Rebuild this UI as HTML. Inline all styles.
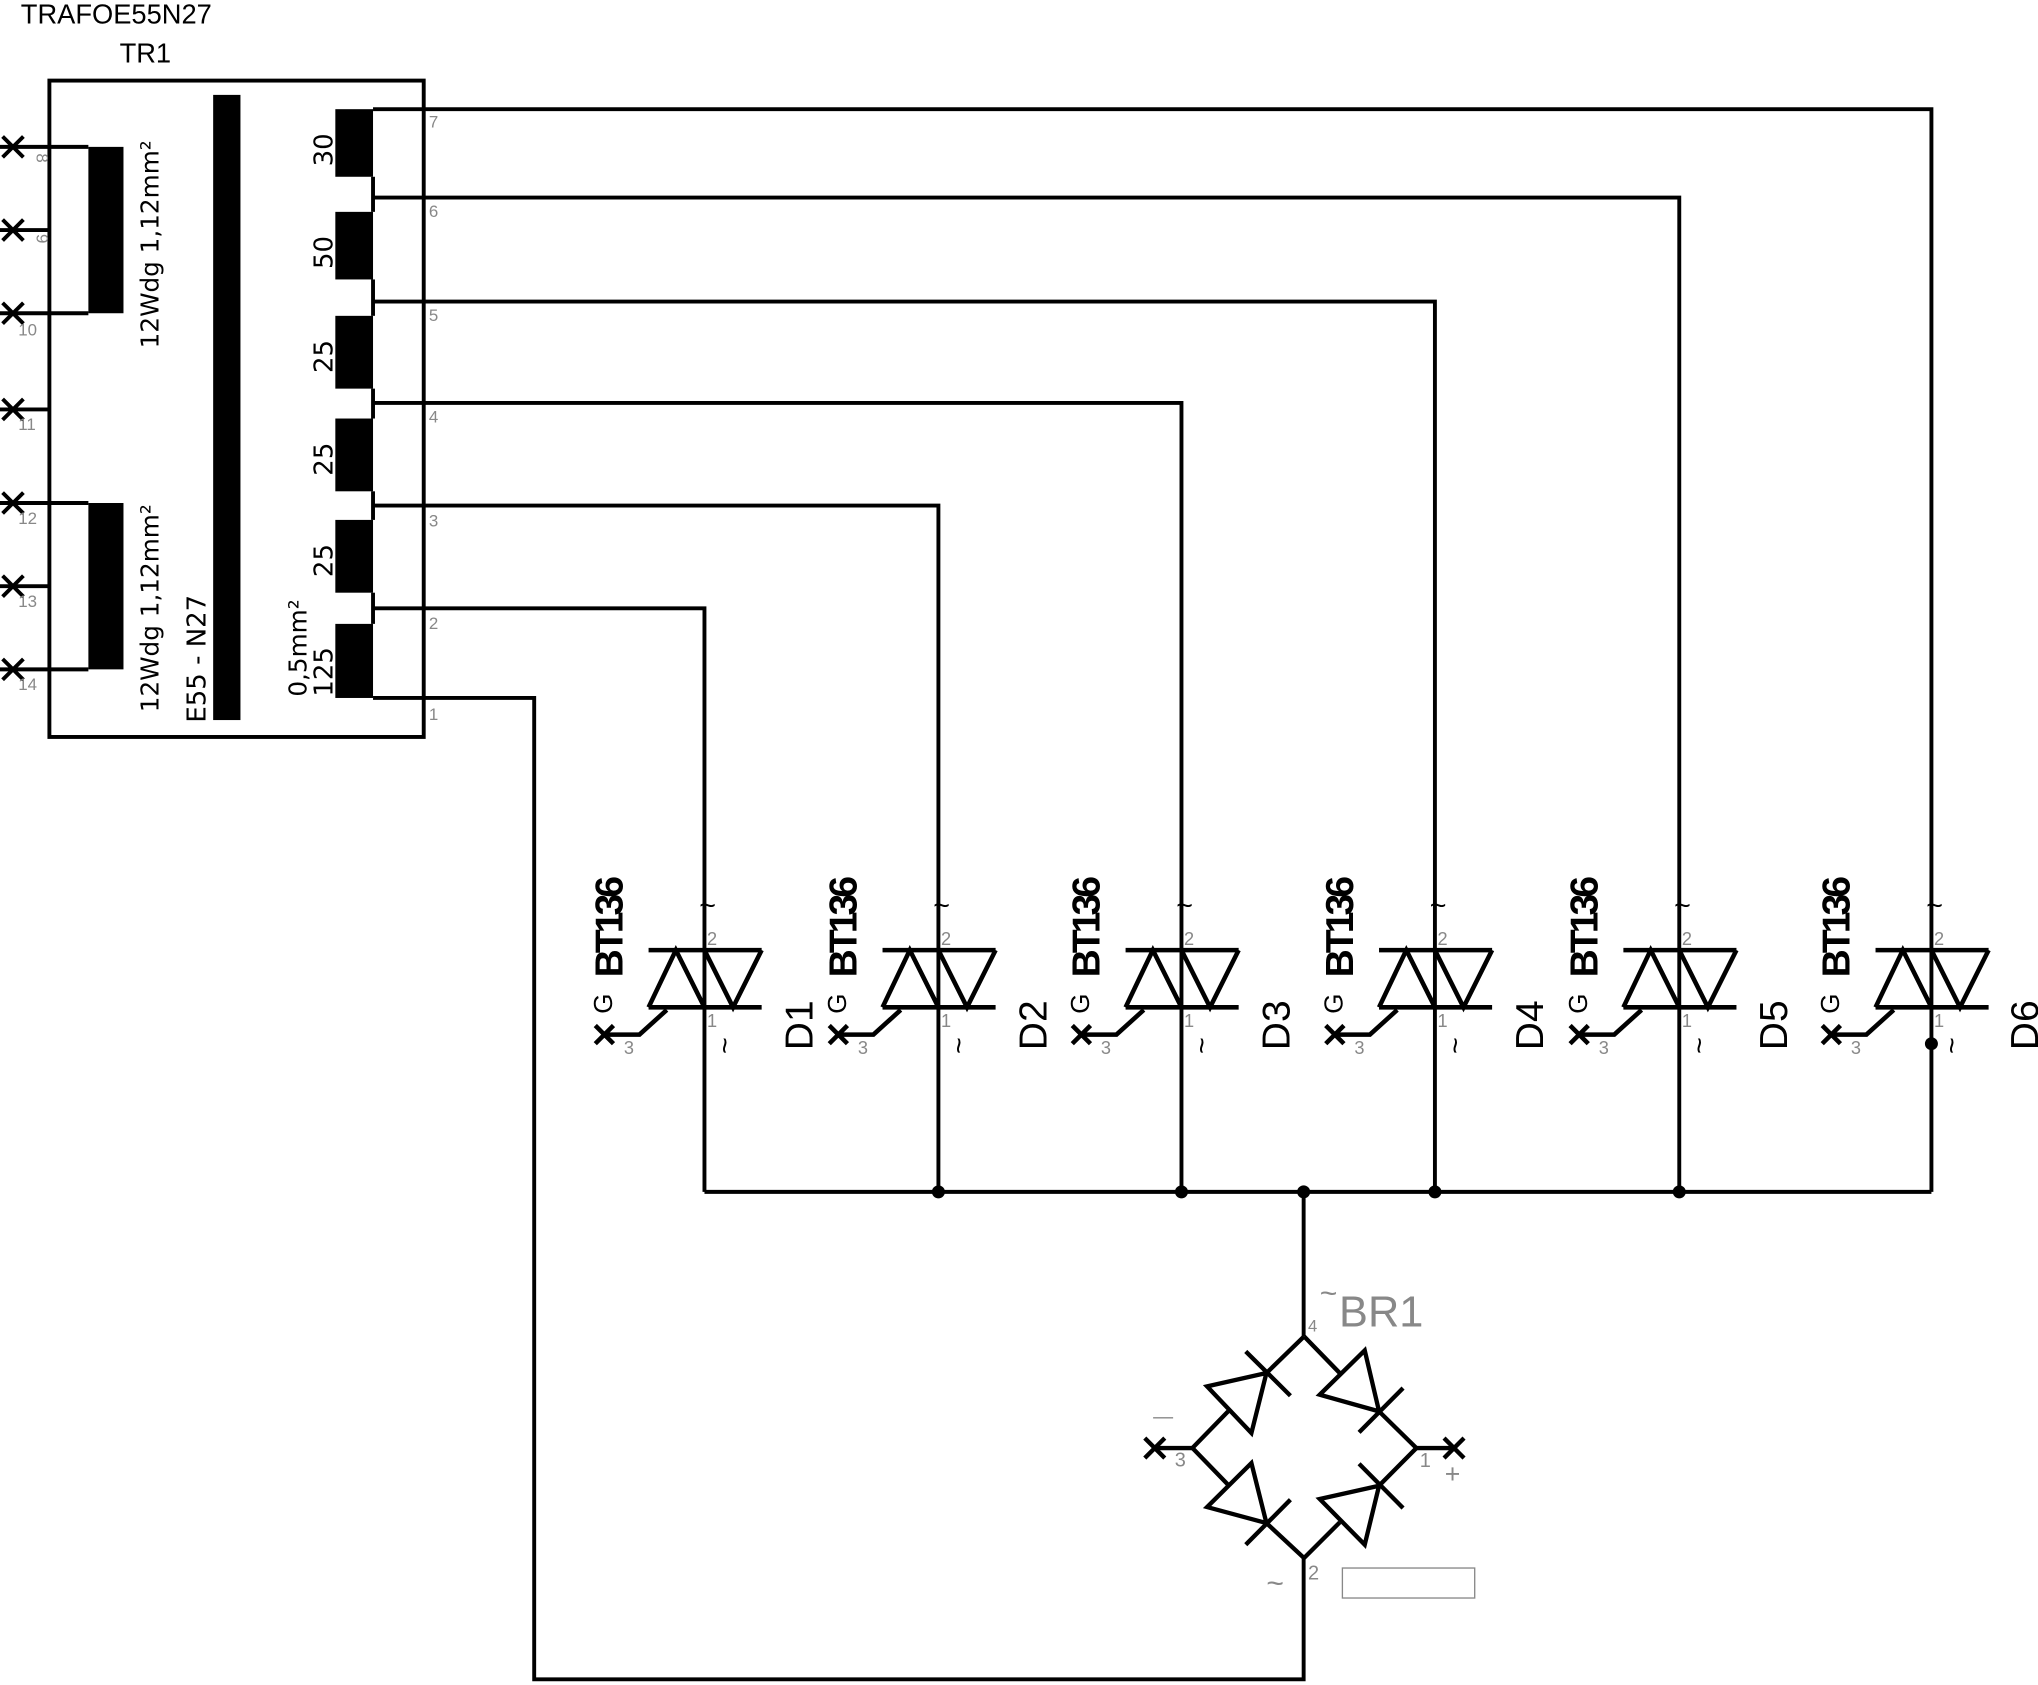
<!DOCTYPE html>
<html><head><style>html,body{margin:0;padding:0;background:#fff}svg{display:block}</style></head>
<body>
<svg width="2038" height="1685" viewBox="0 0 1568 1296.4" xmlns="http://www.w3.org/2000/svg" font-family="Liberation Sans, DejaVu Sans, sans-serif">
<g stroke="#000" stroke-width="3" fill="none">
<rect x="38" y="62" width="288" height="505"/>
<polyline points="0,113 68,113"/><polyline points="0,241 68,241"/>
<line x1="0" y1="177" x2="38" y2="177"/><line x1="0" y1="315" x2="38" y2="315"/>
<polyline points="0,387 68,387"/><polyline points="0,515 68,515"/>
<line x1="0" y1="451" x2="38" y2="451"/>
<line x1="287" y1="136" x2="287" y2="163"/><line x1="287" y1="215" x2="287" y2="243"/>
<line x1="287" y1="299" x2="287" y2="322"/><line x1="287" y1="378" x2="287" y2="400"/>
<line x1="287" y1="456" x2="287" y2="480"/>
<polyline points="287,84 1486,84 1486,917"/>
<polyline points="287,152 1292,152 1292,917"/>
<polyline points="287,232 1104,232 1104,917"/>
<polyline points="287,310 909,310 909,917"/>
<polyline points="287,389 722,389 722,917"/>
<polyline points="287,468 542,468 542,917"/>
<polyline points="287,537 411,537 411,1292 1003,1292 1003,1198"/>
<line x1="542" y1="917" x2="1486" y2="917"/>
<line x1="1003" y1="917" x2="1003" y2="1028"/>
</g>
<g fill="#000">
<rect x="164" y="73" width="21" height="481"/>
<rect x="68" y="113" width="27" height="128"/><rect x="68" y="387" width="27" height="128"/>
<rect x="258" y="84" width="29" height="52"/><rect x="258" y="163" width="29" height="52"/>
<rect x="258" y="243" width="29" height="56"/><rect x="258" y="322" width="29" height="56"/>
<rect x="258" y="400" width="29" height="56"/><rect x="258" y="480" width="29" height="57"/>
<circle cx="722" cy="917" r="5"/><circle cx="909" cy="917" r="5"/><circle cx="1003" cy="917" r="5"/>
<circle cx="1104" cy="917" r="5"/><circle cx="1292" cy="917" r="5"/><circle cx="1486" cy="803" r="5"/>
</g>
<g stroke="#000" stroke-width="3">
<path d="M2,105 l16,16 M18,105 l-16,16"/><path d="M2,169 l16,16 M18,169 l-16,16"/>
<path d="M2,233 l16,16 M18,233 l-16,16"/><path d="M2,307 l16,16 M18,307 l-16,16"/>
<path d="M2,379 l16,16 M18,379 l-16,16"/><path d="M2,443 l16,16 M18,443 l-16,16"/>
<path d="M2,507 l16,16 M18,507 l-16,16"/>
</g>
<text x="16" y="18" font-size="21">TRAFOE55N27</text>
<text x="92" y="48" font-size="21">TR1</text>
<g font-size="13" fill="#888">
<text transform="translate(28,118) rotate(90)">8</text>
<text transform="translate(28,180) rotate(90)">9</text>
<text x="14" y="258">10</text><text x="14" y="331">11</text>
<text x="14" y="403">12</text><text x="14" y="467">13</text><text x="14" y="531">14</text>
<text x="330" y="98">7</text><text x="330" y="167">6</text><text x="330" y="247">5</text>
<text x="330" y="325">4</text><text x="330" y="405">3</text><text x="330" y="484">2</text><text x="330" y="554">1</text>
</g>
<g font-size="19" font-family="DejaVu Sans, Liberation Sans, sans-serif">
<text transform="translate(122,268) rotate(-90)">12Wdg 1,12mm²</text>
<text transform="translate(122,548) rotate(-90)">12Wdg 1,12mm²</text>
<text transform="translate(158,556) rotate(-90)" font-size="20">E55 - N27</text>
<text transform="translate(236,536) rotate(-90)">0,5mm²</text>
<text transform="translate(256,536) rotate(-90)" font-size="20">125</text>
<text transform="translate(256,128) rotate(-90)" font-size="20">30</text>
<text transform="translate(256,207) rotate(-90)" font-size="20">50</text>
<text transform="translate(256,287) rotate(-90)" font-size="20">25</text>
<text transform="translate(256,366) rotate(-90)" font-size="20">25</text>
<text transform="translate(256,444) rotate(-90)" font-size="20">25</text>
</g>
<defs>
<g id="tr">
<g stroke="#000" stroke-width="3.5" fill="none">
<line x1="-43" y1="731" x2="44" y2="731"/><line x1="-43" y1="775" x2="44" y2="775"/>
<polyline points="-43,775 -22,731 0,775"/>
<polyline points="0,731 22,775 44,731"/>
<polyline points="-29,777 -50,796 -77,796"/>
<path d="M-84,789 l14,14 M-70,789 l-14,14"/>
</g>
<g font-size="14" fill="#888"><text x="2" y="727">2</text><text x="2" y="790">1</text><text x="-62" y="811">3</text></g>
<text x="-4" y="704" font-size="22">~</text>
<text font-size="22" transform="translate(8,798) rotate(90)">~</text>
<text transform="translate(-71,780) rotate(-90)" font-size="20">G</text>
<text transform="translate(-63,752) rotate(-90)" font-size="30" font-weight="bold" letter-spacing="-3">BT136</text>
</g>
</defs>
<use href="#tr" transform="translate(542,0)"/><use href="#tr" transform="translate(722,0)"/>
<use href="#tr" transform="translate(909,0)"/><use href="#tr" transform="translate(1104,0)"/>
<use href="#tr" transform="translate(1292,0)"/><use href="#tr" transform="translate(1486,0)"/>
<g font-size="30">
<text transform="translate(625,808) rotate(-90)">D1</text>
<text transform="translate(805,808) rotate(-90)">D2</text>
<text transform="translate(992,808) rotate(-90)">D3</text>
<text transform="translate(1187,808) rotate(-90)">D4</text>
<text transform="translate(1375,808) rotate(-90)">D5</text>
<text transform="translate(1568,808) rotate(-90)">D6</text>
</g>
<g transform="scale(0.76923) translate(1120,1260) scale(0.33333)">
<g stroke="#000" stroke-width="13" fill="none">
<line x1="218" y1="565" x2="325" y2="455"/><polygon points="262,380 440,340 395,520"/>
<line x1="440" y1="340" x2="553" y2="230"/><line x1="378" y1="275" x2="512" y2="408"/>
<line x1="553" y1="230" x2="660" y2="340"/><polygon points="600,405 735,272 778,455"/>
<line x1="778" y1="455" x2="890" y2="565"/><line x1="718" y1="518" x2="850" y2="385"/>
<line x1="218" y1="565" x2="325" y2="675"/><polygon points="262,742 395,610 440,790"/>
<line x1="440" y1="790" x2="553" y2="895"/><line x1="378" y1="855" x2="512" y2="720"/>
<line x1="890" y1="565" x2="778" y2="678"/><polygon points="600,718 778,678 735,855"/>
<line x1="660" y1="788" x2="553" y2="895"/><line x1="718" y1="612" x2="850" y2="745"/>
<line x1="105" y1="565" x2="218" y2="565"/><line x1="890" y1="565" x2="1003" y2="565"/>
<path d="M75,535 l60,60 M135,535 l-60,60"/><path d="M973,535 l60,60 M1033,535 l-60,60"/>
</g>
<rect x="668" y="925" width="397" height="90" fill="none" stroke="#888" stroke-width="4"/>
<g fill="#888" font-size="60"><text x="565" y="215" font-size="50">4</text><text x="165" y="620">3</text><text x="900" y="622">1</text><text x="565" y="960">2</text>
<text x="100" y="490">—</text><text x="975" y="670" font-size="80">+</text><text x="600" y="130" font-size="90">~</text><text x="440" y="1000" font-size="90">~</text>
<text x="658" y="200" font-size="130">BR1</text></g>
</g>
</svg>
</body></html>
